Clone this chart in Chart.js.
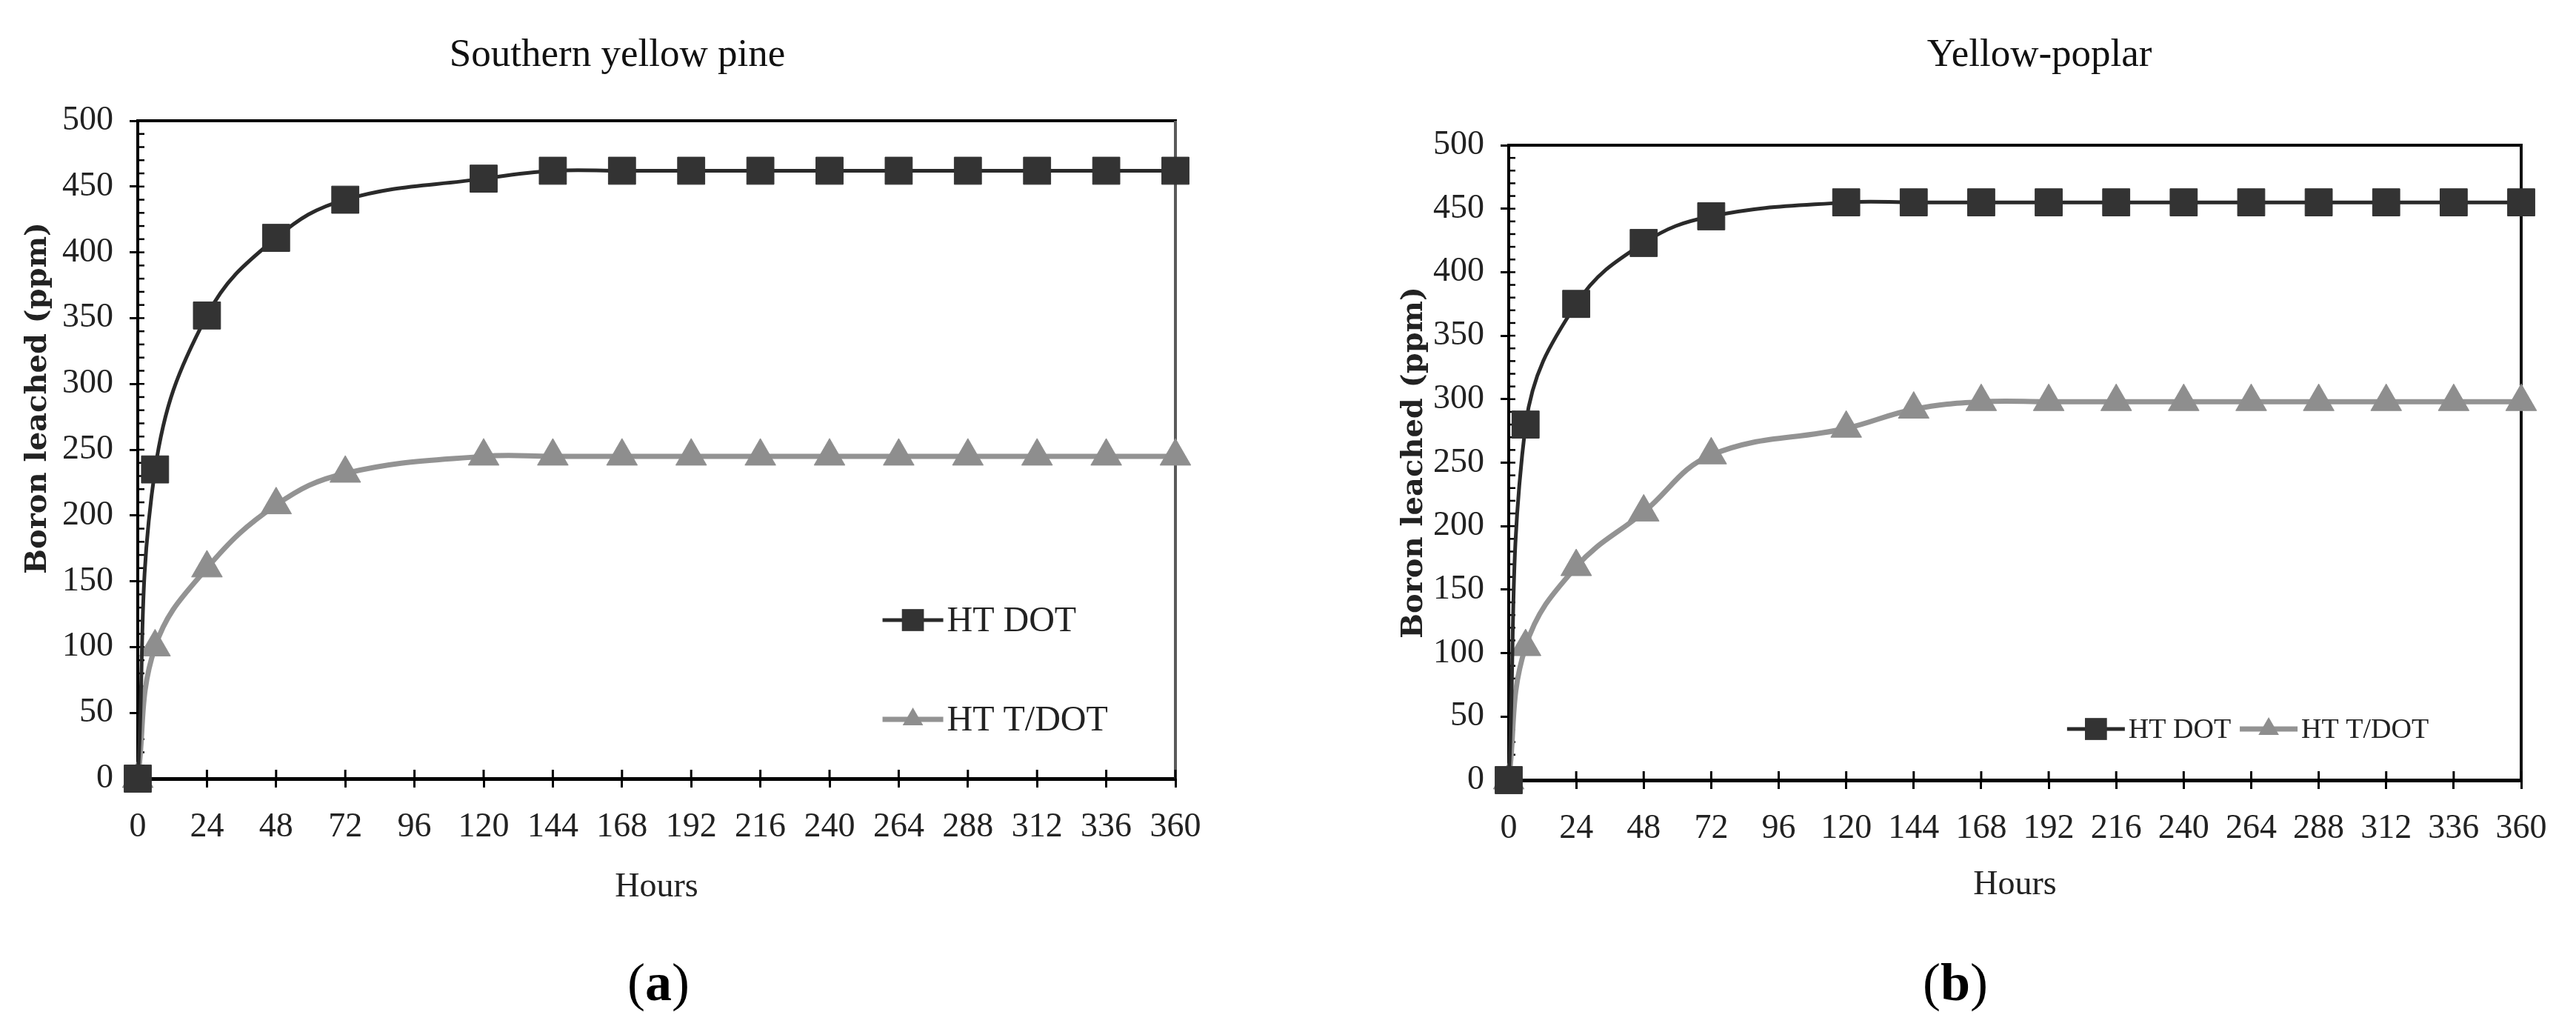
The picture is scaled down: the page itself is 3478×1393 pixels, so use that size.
<!DOCTYPE html>
<html>
<head>
<meta charset="utf-8">
<script src="https://cdn.jsdelivr.net/npm/chart.js@4.4.1/dist/chart.umd.min.js"></script>
<style>
  body { margin: 0; background: #fff; width: 3478px; height: 1393px; overflow: hidden; position: relative; }
  canvas { position: absolute; top: 0; }
  .cap { position: absolute; top: 1290px; width: 200px; text-align: center;
         font-family: "Liberation Serif", serif; font-size: 72px; line-height: 1; color: #000; }
</style>
</head>
<body>
<canvas id="pine" width="1700" height="1260" style="left:0"></canvas>
<canvas id="poplar" width="1738" height="1260" style="left:1740px"></canvas>
<div class="cap" style="left:789px">(<b>a</b>)</div>
<div class="cap" style="left:2540px">(<b>b</b>)</div>
<script>
// sampling times (hours) shared by both panels
const hours = [0, 6, 24, 48, 72, 120, 144, 168, 192, 216, 240, 264, 288, 312, 336, 360];

// Southern yellow pine
const pineDOT  = [0, 235, 352, 411, 440, 456, 462, 462, 462, 462, 462, 462, 462, 462, 462, 462];
const pineTDOT = [0, 100, 160, 208, 232, 245, 245, 245, 245, 245, 245, 245, 245, 245, 245, 245];

// Yellow-poplar
const poplarDOT  = [0, 280, 375, 423, 444, 455, 455, 455, 455, 455, 455, 455, 455, 455, 455, 455];
const poplarTDOT = [0, 105, 168, 211, 256, 277, 292, 298, 298, 298, 298, 298, 298, 298, 298, 298];

const seriesNames = ["HT DOT", "HT T/DOT"];
const xMax = 360, xStep = 24;
const yMax = 500, yStep = 50, yMinorStep = 10;

const serif = "'Liberation Serif', 'Times New Roman', serif";
const sp = n => "\u00a0".repeat(n);

// top/right edges of the plot box, inner halves of the x ticks, minor y ticks
const framePlugin = {
  id: 'frame',
  beforeDatasetsDraw(chart, args, opts) {
    const {ctx, chartArea: a, scales: {x, y}} = chart;
    ctx.save();
    ctx.lineWidth = 4;
    ctx.strokeStyle = '#000';
    ctx.beginPath(); ctx.moveTo(a.left, a.top); ctx.lineTo(a.right + 2, a.top); ctx.stroke();
    ctx.strokeStyle = opts.rightColor;
    ctx.beginPath(); ctx.moveTo(a.right, a.top); ctx.lineTo(a.right, a.bottom); ctx.stroke();
    ctx.strokeStyle = '#000';
    ctx.lineWidth = 3;
    x.ticks.forEach(t => {
      const px = x.getPixelForValue(t.value);
      ctx.beginPath(); ctx.moveTo(px, a.bottom); ctx.lineTo(px, a.bottom - 12); ctx.stroke();
    });
    ctx.lineWidth = 2.5;
    for (let v = 0; v <= yMax; v += yMinorStep) {
      const py = y.getPixelForValue(v);
      ctx.beginPath(); ctx.moveTo(a.left, py); ctx.lineTo(a.left + 9, py); ctx.stroke();
    }
    ctx.restore();
  }
};

// legend drawn inside the plot area
const insideLegend = {
  id: 'insideLegend',
  afterDatasetsDraw(chart, args, opts) {
    const {ctx, chartArea: a} = chart;
    ctx.save();
    chart.data.datasets.forEach((ds, i) => {
      const cx = a.left + opts.spots[i][0] * a.width;
      const cy = a.top + opts.spots[i][1] * a.height;
      ctx.strokeStyle = ds.borderColor;
      ctx.lineWidth = ds.borderWidth;
      ctx.beginPath(); ctx.moveTo(cx - opts.half, cy); ctx.lineTo(cx + opts.half, cy); ctx.stroke();
      ctx.fillStyle = ds.pointBackgroundColor;
      Chart.helpers.drawPoint(ctx, {pointStyle: ds.pointStyle, rotation: 0, radius: opts.radius[i], borderWidth: 0}, cx, cy);
      ctx.fillStyle = '#222';
      ctx.font = opts.fontSize + 'px ' + serif;
      ctx.textAlign = 'left';
      ctx.textBaseline = 'middle';
      ctx.fillText(ds.label, cx + opts.half + 5, cy + 2);
    });
    ctx.restore();
  }
};

function makeChart(id, dot, tdot, lay) {
  const toPts = vals => vals.map((v, i) => ({x: hours[i], y: v}));
  return new Chart(document.getElementById(id), {
    type: 'line',
    data: {
      datasets: [{
        label: seriesNames[0],
        data: toPts(dot),
        borderColor: '#2a2a2a',
        borderWidth: 5,
        pointStyle: 'rect',
        pointRadius: 26,
        pointBackgroundColor: '#333333',
        pointBorderColor: '#333333',
        pointBorderWidth: 1,
        tension: 0.4,
        clip: false
      }, {
        label: seriesNames[1],
        data: toPts(tdot),
        borderColor: '#939393',
        borderWidth: 7,
        pointStyle: 'triangle',
        pointRadius: 24,
        pointBackgroundColor: '#8e8e8e',
        pointBorderColor: '#8e8e8e',
        pointBorderWidth: 1,
        tension: 0.4,
        clip: false
      }]
    },
    options: {
      responsive: false,
      animation: false,
      layout: {padding: {left: 0, top: 0, right: lay.padRight, bottom: lay.padBottom}},
      plugins: {
        legend: {display: false},
        tooltip: {enabled: false},
        title: {
          display: true,
          fullSize: false,
          text: lay.titleText,
          color: '#111',
          font: {family: serif, size: 53, weight: 'normal', lineHeight: 1.2},
          padding: {top: 43, bottom: lay.titleBottom}
        },
        frame: {rightColor: lay.rightColor},
        insideLegend: lay.legend
      },
      scales: {
        x: {
          type: 'linear',
          min: 0, max: xMax,
          afterFit: s => { s.height = lay.xHeight; },
          ticks: {stepSize: xStep, color: '#222', padding: 26, maxRotation: 0, font: {family: serif, size: 46}},
          grid: {drawOnChartArea: false, color: '#000', lineWidth: 3, tickLength: 12},
          border: {display: true, color: '#000', width: 5},
          title: {display: true, text: 'Hours', color: '#222', padding: {top: 4, bottom: 4},
                  font: {family: serif, size: 46, lineHeight: 1.2}}
        },
        y: {
          min: 0, max: yMax,
          afterFit: s => { s.width = lay.yWidth; },
          ticks: {stepSize: yStep, color: '#222', padding: 22, font: {family: serif, size: 46}},
          grid: {drawOnChartArea: false, color: '#000', lineWidth: 3, tickLength: 11},
          border: {display: true, color: '#000', width: 4},
          title: {display: true, text: lay.yTitle, color: '#222', padding: {top: lay.yTitlePad, bottom: 0},
                  font: {family: "'DejaVu Serif', serif", size: 40, weight: 'bold', lineHeight: 1.2}}
        }
      }
    },
    plugins: [framePlugin, insideLegend]
  });
}

makeChart('pine', pineDOT, pineTDOT, {
  titleText: 'Southern yellow pine' + sp(8),
  titleBottom: 56.4,
  padRight: 113, padBottom: 30,
  xHeight: 179, yWidth: 186,
  yTitle: sp(10) + 'Boron leached (ppm)', yTitlePad: 28,
  rightColor: '#5a5a5a',
  legend: {spots: [[0.747, 0.759], [0.747, 0.910]], half: 41, radius: [21, 16], fontSize: 48}
});

makeChart('poplar', poplarDOT, poplarTDOT, {
  titleText: sp(5) + 'Yellow-poplar',
  titleBottom: 89.4,
  padRight: 74, padBottom: 33,
  xHeight: 174, yWidth: 297,
  yTitle: 'Boron leached (ppm)', yTitlePad: 146,
  rightColor: '#111',
  legend: {spots: [[0.580, 0.9195], [0.7506, 0.9195]], half: 39, radius: [21, 16], fontSize: 38}
});
</script>
</body>
</html>
